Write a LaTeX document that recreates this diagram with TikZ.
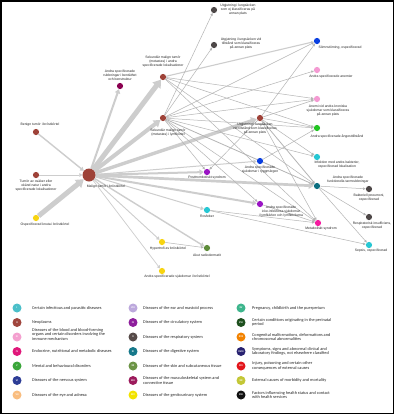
\documentclass[tikz,border=0pt]{standalone}
\usepackage{fontspec}
\setmainfont{Liberation Sans}
\newfontfamily\legfont{Carlito}
\usetikzlibrary{arrows.meta}
\pgfdeclarelayer{bg}
\pgfsetlayers{bg,main}
% node colours
\definecolor{nII}{HTML}{9E4238}
\definecolor{nXIV}{HTML}{F7D411}
\definecolor{nXIII}{HTML}{8A0050}
\definecolor{nX}{HTML}{4D4747}
\definecolor{nVI}{HTML}{0A3FE0}
\definecolor{nIII}{HTML}{F49AD2}
\definecolor{nV}{HTML}{22C422}
\definecolor{nI}{HTML}{27C7D3}
\definecolor{nIX}{HTML}{9A14C4}
\definecolor{nXI}{HTML}{0B6E80}
\definecolor{nIV}{HTML}{F51CA0}
\definecolor{nXII}{HTML}{5E8C3A}
\definecolor{edA}{HTML}{CDCDCD}
\definecolor{edB}{HTML}{B4B4B4}
% legend colours
\definecolor{lI}{HTML}{4BBFC9}
\definecolor{lII}{HTML}{A0453D}
\definecolor{lIII}{HTML}{F4A0CF}
\definecolor{lIV}{HTML}{E0177A}
\definecolor{lV}{HTML}{3AA63A}
\definecolor{lVI}{HTML}{2D3D96}
\definecolor{lVII}{HTML}{F9BD7F}
\definecolor{lVIII}{HTML}{BCA8DC}
\definecolor{lIX}{HTML}{8E1E9C}
\definecolor{lX}{HTML}{564A48}
\definecolor{lXI}{HTML}{16788A}
\definecolor{lXII}{HTML}{6C9446}
\definecolor{lXIII}{HTML}{9C1A5C}
\definecolor{lXIV}{HTML}{F2E300}
\definecolor{lXV}{HTML}{3DB58C}
\definecolor{lXVI}{HTML}{1E4F1E}
\definecolor{lXVII}{HTML}{F28200}
\definecolor{lXVIII}{HTML}{272170}
\definecolor{lXIX}{HTML}{E3151B}
\definecolor{lXX}{HTML}{C3C736}
\definecolor{lXXI}{HTML}{111111}
\begin{document}
\begin{tikzpicture}[x=1pt,y=-1pt,
  nd/.style={circle, fill=#1, draw=none, minimum size=6.2pt, inner sep=0pt},
  lbl/.style={font=\fontsize{3.4}{4.1}\selectfont, align=center, inner sep=0pt, text=black!85},
  ed/.style={draw=edA, line width=#1, -{Triangle[length=2pt 1.1, width=2.4pt 1.5]}},
  te/.style={draw=edB, line width=0.5pt, -{Triangle[length=2.6pt, width=2.3pt]}},
  lc/.style={circle, fill=#1, draw=none, minimum size=9pt, inner sep=0pt, text=white, font=\legfont\fontsize{2.6}{3}\selectfont\bfseries},
  lt/.style={anchor=west, align=left, inner sep=0pt, font=\legfont\fontsize{4.3}{4.6}\selectfont, text=black!85}]
\useasboundingbox (0,0) rectangle (400,416);
\begin{pgfonlayer}{bg}
\fill[white] (0,0) rectangle (400,416);
\end{pgfonlayer}
\draw[line width=1.5pt] (0.75,0.75) rectangle (393.5,413.5);

% ---------- nodes ----------
\node[nd=nII, minimum size=13pt] (M) at (89,175) {};
\node[nd=nII] (Ben) at (36,132) {};
\node[nd=nII] (Tos) at (36,175) {};
\node[nd=nXIV] (Kn) at (36,218) {};
\node[nd=nXIII] (Bt) at (120,86) {};
\node[nd=nII] (SA) at (163,77) {};
\node[nd=nII] (SL) at (163,118) {};
\node[nd=nX] (UE) at (214,10) {};
\node[nd=nX] (UV) at (214,45) {};
\node[nd=nVI] (Som) at (317,41) {};
\node[nd=nIII] (An) at (317,70) {};
\node[nd=nIII] (AK) at (317,99) {};
\node[nd=nV] (Ang) at (317,128) {};
\node[nd=nII] (R) at (260,118) {};
\node[nd=nI] (Inf) at (317,157) {};
\node[nd=nVI] (Ryg) at (260,161) {};
\node[nd=nIX] (Pt) at (207,172) {};
\node[nd=nXI] (Ta) at (317,186) {};
\node[nd=nX] (BP) at (369,189) {};
\node[nd=nIX] (Ly) at (260,204) {};
\node[nd=nI] (Ros) at (207,210) {};
\node[nd=nX] (RI) at (369,217) {};
\node[nd=nIV] (Met) at (318,223) {};
\node[nd=nI] (Sep) at (369,245) {};
\node[nd=nXIV] (Hy) at (162,242) {};
\node[nd=nXII] (Ak) at (207,248) {};
\node[nd=nXIV] (AB) at (162,271) {};

% ---------- labels ----------
\node[lbl] (lM) at (106,187) {Malign tumör i bröstkörtel};
\node[lbl] (lBen) at (40,125) {Benign tumör i bröstkörtel};
\node[lbl] (lTos) at (36,186) {Tumör av osäker eller\\okänd natur i andra\\specificerade lokalisationer};
\node[lbl] (lKn) at (45,225) {Ospecificerad knuta i bröstkörtel};
\node[lbl] (lBt) at (120,75) {Andra specificerade\\rubbningar i bentäthet\\och benstruktur};
\node[lbl] (lSA) at (163,62) {Sekundär malign tumör\\(metastas) i andra\\specificerade lokalisationer};
\node[lbl] (lSL) at (168,133) {Sekundär malign tumör\\(metastas) i lymfkörtel};
\node[lbl] (lUE) at (238,10) {Utgjutning i lungsäcken\\som ej klassificeras på\\annan plats};
\node[lbl] (lUV) at (241,44) {Utgjutning i lungsäcken vid\\tillstånd som klassificeras\\på annan plats};
\node[lbl] (lSom) at (340,48) {Sömnstörning, ospecificerad};
\node[lbl] (lAn) at (331,77) {Andra specificerade anemier};
\node[lbl] (lAK) at (328,111) {Anemi vid andra kroniska\\sjukdomar som klassificeras\\på annan plats};
\node[lbl] (lAng) at (337,136) {Andra specificerade ångesttillstånd};
\node[lbl] (lR) at (255,129) {Utgjutning i lungsäcken\\vid tillstånd som klassificeras\\på annan plats};
\node[lbl] (lInf) at (337,165) {Infektion med andra bakterier,\\ospecificerad lokalisation};
\node[lbl] (lRyg) at (260,170) {Andra specificerade\\sjukdomar i ryggmärgen};
\node[lbl] (lPt) at (207,178) {Posttrombotiskt syndrom};
\node[lbl] (lTa) at (348,180) {Andra specificerade\\funktionella tarmrubbningar};
\node[lbl] (lBP) at (369,198) {Bakteriell pneumoni,\\ospecificerad};
\node[lbl] (lLy) at (281,211.5) {Andra specificerade\\icke-infektiösa sjukdomar\\i lymfkärlen och lymfkörtlarna};
\node[lbl] (lRos) at (207,216) {Rosfeber};
\node[lbl] (lRI) at (372,226) {Respiratorisk insufficiens,\\ospecificerad};
\node[lbl] (lMet) at (321,229) {Metaboliskt syndrom};
\node[lbl] (lSep) at (371,251) {Sepsis, ospecificerad};
\node[lbl] (lHy) at (168,249) {Hypertrofi av bröstkörtel};
\node[lbl] (lAk) at (207,255) {Akut radiodermatit};
\node[lbl] (lAB) at (177,277) {Andra specificerade sjukdomar i bröstkörtel};

% ---------- edges ----------
\begin{pgfonlayer}{bg}
\draw[ed=5pt] (M) -- (SA);
\draw[ed=4pt] (M) -- (SL);
\draw[ed=3.4pt] (M) -- (R);
\draw[ed=2.7pt] (M) -- (Ta);
\draw[ed=5pt] (Kn) -- (M);
\draw[ed=2pt] (M) -- (Bt);
\draw[ed=1.4pt] (Ben) -- (M);
\draw[ed=0.9pt] (Tos) -- (M);
\draw[ed=2pt] (M) -- (Pt);
\draw[ed=2pt] (M) -- (Ly);
\draw[ed=1pt] (M) -- (Ryg);
\draw[ed=1pt] (M) -- (Ros);
\draw[ed=0.9pt] (M) -- (Hy);
\draw[ed=1.4pt] (M) -- (Ak);
\draw[ed=0.7pt] (M) -- (AB);
% thin
\draw[te, line width=1.1pt, draw=edA] (SA) -- (Som);
\draw[te] (SA) -- (AK);
\draw[te] (SA) -- (Ang);
\draw[te] (SA) -- (Ta);
\draw[te] (SA) -- (Met);
\draw[te] (SL) -- (UE);
\draw[te] (SL) -- (UV);
\draw[te] (SL) -- (Som);
\draw[te] (SL) -- (An);
\draw[te] (SL) -- (AK);
\draw[te] (SL) -- (Ang);
\draw[te] (SL) -- (Inf);
\draw[te] (SL) -- (Ly);
\draw[te, line width=0.8pt] (SL) -- (Ta);
\draw[te] (SL) -- (Met);
\draw[te] (SL) -- (Pt);
\draw[te] (R) -- (Som);
\draw[te] (R) -- (AK);
\draw[te] (R) -- (Ang);
\draw[te] (R) -- (Inf);
\draw[te, line width=0.8pt] (R) -- (Ta);
\draw[te] (R) -- (Met);
\draw[te] (R) -- (Pt);
\draw[te] (Ryg) -- (Ang);
\draw[te] (Ta) -- (BP);
\draw[te] (Ta) -- (RI);
\draw[te] (Ta) -- (Sep);
\draw[te] (Ros) -- (Met);
\draw[te] (Ros) -- (Sep);
\draw[te] (Hy) -- (Ak);
\draw[te] (Ly) -- (Met);
\end{pgfonlayer}

% ---------- legend ----------
\node[lc=lI] (cI) at (17,308) {I};
\node[lt] (tI) at (32,308) {Certain infectious and parasitic diseases};
\node[lc=lII] (cII) at (17,322.5) {II};
\node[lt] (tII) at (32,322.5) {Neoplasms};
\node[lc=lIII] (cIII) at (17,337) {III};
\node[lt] (tIII) at (32,334.5) {Diseases of the blood and blood-forming\\organs and certain disorders involving the\\immune mechanism};
\node[lc=lIV] (cIV) at (17,351.5) {IV};
\node[lt] (tIV) at (32,351.5) {Endocrine, nutritional and metabolic diseases};
\node[lc=lV] (cV) at (17,366) {V};
\node[lt] (tV) at (32,366) {Mental and behavioural disorders};
\node[lc=lVI] (cVI) at (17,380.5) {VI};
\node[lt] (tVI) at (32,380.5) {Diseases of the nervous system};
\node[lc=lVII] (cVII) at (17,395) {VII};
\node[lt] (tVII) at (32,395) {Diseases of the eye and adnexa};

\node[lc=lVIII] (cVIII) at (133,308) {VIII};
\node[lt] (tVIII) at (143,308) {Diseases of the ear and mastoid process};
\node[lc=lIX] (cIX) at (133,322.5) {IX};
\node[lt] (tIX) at (143,322.5) {Diseases of the circulatory system};
\node[lc=lX] (cX) at (133,337) {X};
\node[lt] (tX) at (143,337) {Diseases of the respiratory system};
\node[lc=lXI] (cXI) at (133,351.5) {XI};
\node[lt] (tXI) at (143,351.5) {Diseases of the digestive system};
\node[lc=lXII] (cXII) at (133,366) {XII};
\node[lt] (tXII) at (143,366) {Diseases of the skin and subcutaneous tissue};
\node[lc=lXIII] (cXIII) at (133,380.5) {XIII};
\node[lt] (tXIII) at (143,380.5) {Diseases of the musculoskeletal system and\\connective tissue};
\node[lc=lXIV] (cXIV) at (133,395) {XIV};
\node[lt] (tXIV) at (143,395) {Diseases of the genitourinary system};

\node[lc=lXV] (cXV) at (241,308) {XV};
\node[lt] (tXV) at (252,308) {Pregnancy, childbirth and the puerperium};
\node[lc=lXVI] (cXVI) at (241,322.5) {XVI};
\node[lt] (tXVI) at (252,322.5) {Certain conditions originating in the perinatal\\period};
\node[lc=lXVII] (cXVII) at (241,337) {XVII};
\node[lt] (tXVII) at (252,337) {Congenital malformations, deformations and\\chromosomal abnormalities};
\node[lc=lXVIII] (cXVIII) at (241,351.5) {XVIII};
\node[lt] (tXVIII) at (252,351.5) {Symptoms, signs and abnormal clinical and\\laboratory findings, not elsewhere classified};
\node[lc=lXIX] (cXIX) at (241,366) {XIX};
\node[lt] (tXIX) at (252,366) {Injury, poisoning and certain other\\consequences of external causes};
\node[lc=lXX] (cXX) at (241,380.5) {XX};
\node[lt] (tXX) at (252,380.5) {External causes of morbidity and mortality};
\node[lc=lXXI] (cXXI) at (241,395) {XXI};
\node[lt] (tXXI) at (252,395) {Factors influencing health status and contact\\with health services};
\end{tikzpicture}
\end{document}
